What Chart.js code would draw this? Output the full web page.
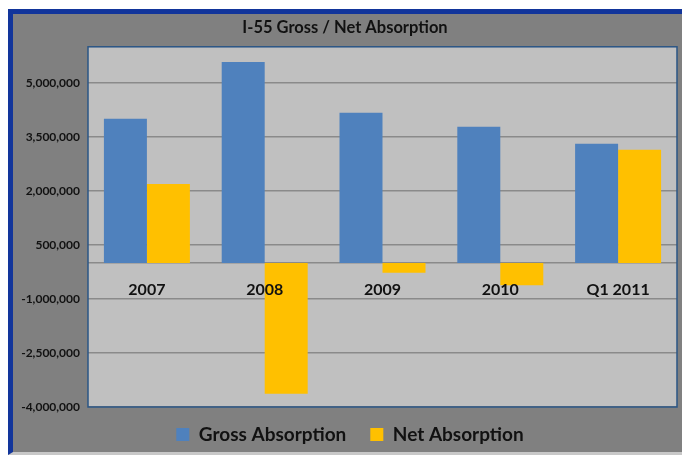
<!DOCTYPE html>
<html>
<head>
<meta charset="utf-8">
<script src="https://cdn.jsdelivr.net/npm/chart.js@4.4.1/dist/chart.umd.min.js"></script>
<style>
  html, body { margin: 0; padding: 0; background: #ffffff; }
  #frame {
    position: absolute;
    left: 8px;
    top: 9px;
    width: 669px;
    height: 438px;
    border-left: 5px solid #12359b;
    border-top: 5px solid #12359b;
    border-bottom: 3px solid #c8c8c8;
    background: #808080;
  }
  #wrap { position: relative; width: 669px; height: 438px; }
</style>
</head>
<body>
<div id="frame">
  <div id="wrap"><canvas id="chart"></canvas></div>
</div>
<script>
  var categories = ["2007", "2008", "2009", "2010", "Q1 2011"];
  var grossAbsorption = [4000000, 5580000, 4170000, 3780000, 3310000];
  var netAbsorption = [2190000, -3630000, -270000, -620000, 3140000];
  var yTickValues = [-4000000, -2500000, -1000000, 500000, 2000000, 3500000, 5000000];

  var FONT = "Lato, 'Open Sans', sans-serif";

  // gray plot background and the dark blue frame round it
  var plotArea = {
    id: "plotArea",
    beforeDraw(chart) {
      var a = chart.chartArea;
      var ctx = chart.ctx;
      ctx.save();
      ctx.fillStyle = "#c0c0c0";
      ctx.fillRect(a.left, a.top, a.right - a.left, a.bottom - a.top);
      ctx.restore();
    },
    afterDraw(chart) {
      var a = chart.chartArea;
      var ctx = chart.ctx;
      ctx.save();
      ctx.strokeStyle = "#2a5585";
      ctx.lineWidth = 1.5;
      ctx.strokeRect(a.left, a.top, a.right - a.left, a.bottom - a.top);
      ctx.restore();
    },
  };

  // wide gap between legend items, but keep the legend box short
  var legendFit = {
    id: "legendFit",
    beforeInit(chart) {
      var legend = chart.legend;
      if (!legend) return;
      var fit = legend.fit;
      legend.fit = function () {
        fit.call(this);
        this.height = 45;
      };
      var draw = legend._draw;
      legend._draw = function () {
        var c = this.ctx;
        c.save();
        c.translate(5, -6);
        draw.apply(this, arguments);
        c.restore();
      };
    },
  };

  new Chart(document.getElementById("chart").getContext("2d"), {
    type: "bar",
    data: {
      labels: categories,
      datasets: [
        {
          label: "Gross Absorption",
          data: grossAbsorption,
          backgroundColor: "#4f81bd",
        },
        {
          label: "Net Absorption",
          data: netAbsorption,
          backgroundColor: "#ffc000",
        },
      ],
    },
    options: {
      responsive: true,
      maintainAspectRatio: false,
      animation: false,
      layout: { padding: { left: 0, right: 5, top: 0, bottom: 0 } },
      datasets: {
        bar: { categoryPercentage: 0.73, barPercentage: 1.0 },
      },
      plugins: {
        title: {
          display: true,
          text: "I-55 Gross / Net Absorption",
          color: "#111111",
          font: { family: FONT, size: 16.5, weight: "bold" },
          padding: { top: 4, bottom: 9 },
        },
        legend: {
          position: "bottom",
          labels: {
            color: "#111111",
            font: { family: FONT, size: 19, weight: "bold" },
            boxWidth: 13,
            boxHeight: 13,
            padding: 24,
            useBorderRadius: false,
          },
        },
        tooltip: { enabled: false },
      },
      scales: {
        x: {
          position: { y: 0 },
          grid: { display: false, drawTicks: false },
          border: { display: true, color: "#8a8a8a", width: 1.5 },
          ticks: {
            z: 1,
            color: "#111111",
            font: { family: FONT, size: 16, weight: "bold" },
            padding: 17,
          },
        },
        y: {
          min: -4000000,
          max: 6000000,
          afterBuildTicks(scale) {
            scale.ticks = yTickValues.map((v) => ({ value: v }));
          },
          afterFit(scale) {
            scale.width = 75;
          },
          grid: { color: "#8a8a8a", lineWidth: 1.5, drawTicks: false },
          border: { display: false },
          ticks: {
            color: "#111111",
            font: { family: FONT, size: 12, weight: "bold" },
            padding: 8,
            callback: (v) => v.toLocaleString("en-US"),
          },
        },
      },
    },
    plugins: [plotArea, legendFit],
  });
</script>
</body>
</html>
